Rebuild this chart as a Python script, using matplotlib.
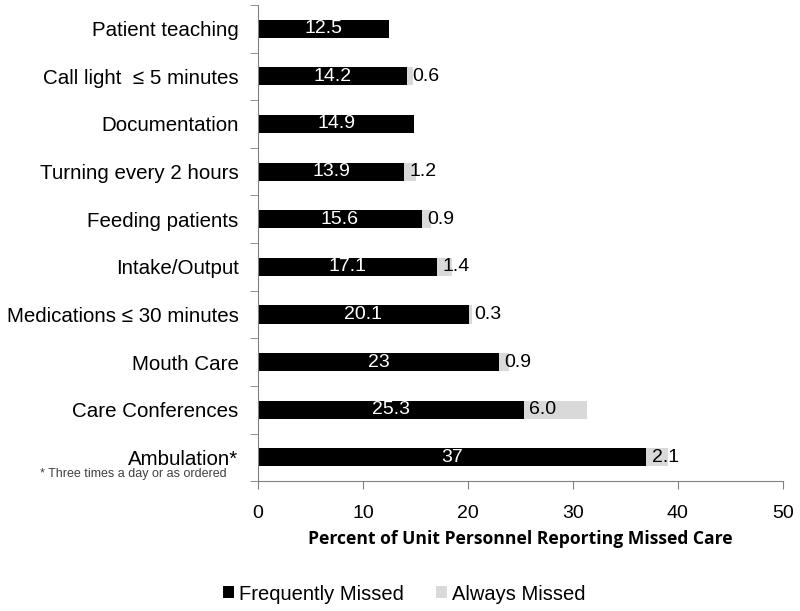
import numpy as np
import matplotlib.pyplot as plt

plt.rcParams['font.family'] = ['Liberation Sans', 'DejaVu Sans']

# Data (top to bottom)
categories = ["Patient teaching", "Call light  \u2264 5 minutes", "Documentation",
              "Turning every 2 hours", "Feeding patients", "Intake/Output",
              "Medications \u2264 30 minutes", "Mouth Care", "Care Conferences",
              "Ambulation*"]
frequently = [12.5, 14.2, 14.9, 13.9, 15.6, 17.1, 20.1, 23, 25.3, 37]
always = [None, 0.6, None, 1.2, 0.9, 1.4, 0.3, 0.9, 6.0, 2.1]
freq_labels = ["12.5", "14.2", "14.9", "13.9", "15.6", "17.1", "20.1", "23", "25.3", "37"]
always_labels = ["", "0.6", "", "1.2", "0.9", "1.4", "0.3", "0.9", "6.0", "2.1"]

fig = plt.figure(figsize=(8, 6.11), dpi=100)
ax = fig.add_axes([0.3225, 0.2125, 0.656, 0.7795])

y = np.arange(len(categories))
alw = np.array([a if a is not None else 0 for a in always])
h = 0.38
ax.barh(y, frequently, height=h, color='black', label='Frequently Missed')
ax.barh(y, alw, left=frequently, height=h, color='#d9d9d9', label='Always Missed')

for i in range(len(categories)):
    ax.text(frequently[i] / 2, y[i], freq_labels[i], color='white',
            ha='center', va='center', fontsize=14)
    if always_labels[i]:
        ax.text(frequently[i] + 0.5, y[i], always_labels[i], color='black',
                ha='left', va='center', fontsize=14)

ax.set_ylim(len(categories) - 0.5, -0.5)
ax.set_xlim(0, 50)
ax.set_xticks([0, 10, 20, 30, 40, 50])
ax.tick_params(axis='x', labelsize=14, length=6, color='#808080', pad=11)
ax.set_yticks(y)
ax.set_yticklabels(categories, fontsize=14.8)
ax.tick_params(axis='y', length=0, pad=14)
ax.set_yticks(np.arange(-0.5, len(categories)), minor=True)
ax.tick_params(axis='y', which='minor', length=6, color='#808080')

for s in ['top', 'right']:
    ax.spines[s].set_visible(False)
ax.spines['left'].set_color('#808080')
ax.spines['bottom'].set_color('#808080')

ax.set_xlabel("Percent of Unit Personnel Reporting Missed Care", fontsize=12.6,
              fontweight='bold', family=['Open Sans', 'DejaVu Sans'], labelpad=6)

fig.text(0.05, 1 - 474 / 611, "* Three times a day or as ordered", fontsize=9,
         color='#404040', va='center', ha='left')

fig.legend(loc='center', bbox_to_anchor=(0.505, 1 - 594 / 611), ncol=2,
           frameon=False, fontsize=14.5, handlelength=0.55, handleheight=0.55,
           columnspacing=1.6, handletextpad=0.25)

fig.savefig("out.png", dpi=100)
